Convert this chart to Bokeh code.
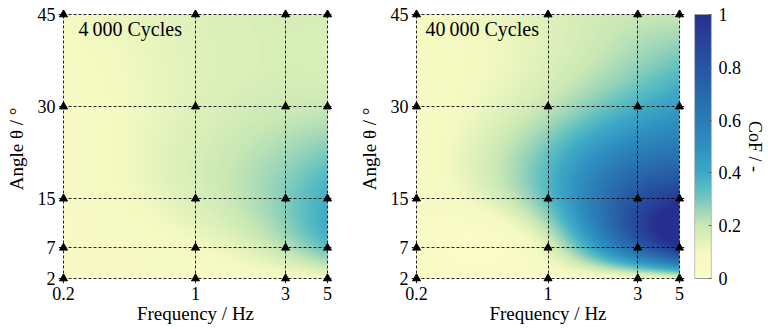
import numpy as np
from bokeh.plotting import figure
from bokeh.layouts import row
from bokeh.models import LinearColorMapper, FixedTicker, Range1d, Label, CustomJSTickFormatter
from bokeh.embed import file_html
from bokeh.resources import INLINE

# ---------------- data ----------------
freqs = [0.2, 1, 3, 5]          # Hz
angles = [2, 7, 15, 30, 45]     # degrees
# rows: angles (2..45), columns: freqs (0.2..5)
cof_4000 = [
    [0.06, 0.06, 0.08, 0.10],
    [0.05, 0.10, 0.22, 0.33],
    [0.05, 0.16, 0.29, 0.39],
    [0.06, 0.15, 0.19, 0.20],
    [0.10, 0.15, 0.17, 0.17],
]
cof_40000 = [
    [0.05, 0.05, 0.08, 0.12],
    [0.05, 0.15, 0.72, 0.98],
    [0.05, 0.34, 0.82, 0.95],
    [0.06, 0.21, 0.38, 0.45],
    [0.08, 0.15, 0.20, 0.20],
]
titles = ["4\u2009000 Cycles", "40\u2009000 Cycles"]
cbar_ticks = [0, 0.2, 0.4, 0.6, 0.8, 1]

# colormap anchors
cmap_pos = [0, 0.1, 0.2, 0.27, 0.33, 0.4, 0.5, 0.6, 0.7, 0.8, 0.9, 1.0]
cmap_col = ["#fcfcca", "#f4f9c1", "#c9e8b4", "#93d2ba", "#5ec0c0", "#3ea9c6",
            "#2f90c0", "#2a7cb6", "#2869ac", "#2656a2", "#27439a", "#262f8f"]


def hex2rgb(h):
    return [int(h[i:i + 2], 16) for i in (1, 3, 5)]


rgb = np.array([hex2rgb(c) for c in cmap_col], float)
tt = np.linspace(0, 1, 256)
palette = []
for t in tt:
    r = np.interp(t, cmap_pos, rgb[:, 0])
    g = np.interp(t, cmap_pos, rgb[:, 1])
    b = np.interp(t, cmap_pos, rgb[:, 2])
    palette.append("#%02x%02x%02x" % (int(round(r)), int(round(g)), int(round(b))))

mapper = LinearColorMapper(palette=palette, low=0, high=1)


def nat_spline(xk, yk, xq):
    xk = np.asarray(xk, float)
    yk = np.asarray(yk, float)
    n = len(xk)
    h = np.diff(xk)
    A = np.zeros((n, n))
    b = np.zeros(n)
    A[0, 0] = 1
    A[-1, -1] = 1
    for i in range(1, n - 1):
        A[i, i - 1] = h[i - 1]
        A[i, i] = 2 * (h[i - 1] + h[i])
        A[i, i + 1] = h[i]
        b[i] = 6 * ((yk[i + 1] - yk[i]) / h[i] - (yk[i] - yk[i - 1]) / h[i - 1])
    M = np.linalg.solve(A, b)
    idx = np.clip(np.searchsorted(xk, xq) - 1, 0, n - 2)
    x0 = xk[idx]
    x1 = xk[idx + 1]
    hh = x1 - x0
    t0 = x1 - xq
    t1 = xq - x0
    return ((M[idx] * t0 ** 3 + M[idx + 1] * t1 ** 3) / (6 * hh)
            + (yk[idx] / hh - M[idx] * hh / 6) * t0
            + (yk[idx + 1] / hh - M[idx + 1] * hh / 6) * t1)


NX, NY = 264, 264
lf_k = np.log10(freqs)
lf_q = np.linspace(lf_k[0], lf_k[-1], NX)
an_q = np.linspace(angles[0], angles[-1], NY)


def field(grid):
    g = np.asarray(grid, float)
    cols = np.array([nat_spline(angles, g[:, j], an_q) for j in range(g.shape[1])]).T
    img = np.array([nat_spline(lf_k, cols[i], lf_q) for i in range(NY)])
    return np.clip(img, 0, 1)


FONT = "Liberation Serif"
fx, fy = np.meshgrid(freqs, angles)
PAD = 5        # px of white margin between heat map and frame edge
IMG_H = 264
TOP = 14 - PAD
BOTTOM = 329 - 14 - IMG_H - PAD


def panel(grid, title, left, img_w, title_dx):
    kx = (np.log10(freqs[-1]) - np.log10(freqs[0])) / img_w
    ky = (angles[-1] - angles[0]) / IMG_H
    xr = Range1d(10 ** (np.log10(freqs[0]) - PAD * kx), 10 ** (np.log10(freqs[-1]) + PAD * kx))
    yr = Range1d(angles[0] - PAD * ky, angles[-1] + PAD * ky)
    p = figure(x_axis_type="log", x_range=xr, y_range=yr,
               frame_width=img_w + 2 * PAD, frame_height=IMG_H + 2 * PAD,
               min_border_left=left, min_border_right=3,
               min_border_top=TOP, min_border_bottom=BOTTOM,
               toolbar_location=None, output_backend="svg")
    p.image(image=[field(grid)], x=freqs[0], y=angles[0],
            dw=freqs[-1] - freqs[0], dh=angles[-1] - angles[0],
            color_mapper=mapper, level="image")
    for ax, ticks in ((p.xaxis[0], freqs), (p.yaxis[0], angles)):
        ax.ticker = FixedTicker(ticks=ticks)
        ax.major_label_text_font = FONT
        ax.major_label_text_font_size = "18px"
        ax.major_label_text_color = "black"
        ax.axis_label_text_font = FONT
        ax.axis_label_text_font_size = "19px"
        ax.axis_label_text_font_style = "normal"
        ax.axis_label_text_color = "black"
        ax.axis_line_color = None
        ax.major_tick_in = 0
        ax.major_tick_out = 0
        ax.minor_tick_line_color = None
        ax.formatter = CustomJSTickFormatter(code="return String(tick);")
    p.xaxis.axis_label = "Frequency / Hz"
    p.yaxis.axis_label = "Angle  \u03b8 / \u00b0"
    p.xaxis.major_label_standoff = 3
    p.yaxis.major_label_standoff = 3
    p.xaxis.axis_label_standoff = 0
    p.yaxis.axis_label_standoff = 8
    p.xgrid.ticker = FixedTicker(ticks=freqs)
    p.ygrid.ticker = FixedTicker(ticks=angles)
    for g in (p.xgrid, p.ygrid):
        g.grid_line_color = "black"
        g.grid_line_dash = "3 2"
        g.grid_line_width = 1
        g.grid_line_alpha = 0.85
    p.outline_line_color = None
    p.scatter(x=fx.ravel(), y=fy.ravel(), marker="triangle", size=8,
              color="black")
    p.add_layout(Label(x=freqs[0], y=angles[-1], x_offset=title_dx, y_offset=-3,
                       text=title, text_baseline="top", text_font=FONT,
                       text_font_size="20px", text_color="black"))
    return p


p1 = panel(cof_4000, titles[0], 58, 264, 15)
w1 = 58 + 264 + 2 * PAD + 3
p2 = panel(cof_40000, titles[1], 416 - PAD - w1, 263, 9)
w2 = (416 - PAD - w1) + 263 + 2 * PAD + 3

# colour bar as a small figure (frame aligned with the panels, bar padded)
ky_cb = (cbar_ticks[-1] - cbar_ticks[0]) / IMG_H
cb = figure(x_range=Range1d(0, 1),
            y_range=Range1d(cbar_ticks[0] - PAD * ky_cb, cbar_ticks[-1] + PAD * ky_cb),
            frame_width=17, frame_height=IMG_H + 2 * PAD,
            min_border_left=694 - w1 - w2, min_border_right=768 - 711,
            min_border_top=TOP, min_border_bottom=BOTTOM,
            x_axis_location=None, y_axis_location="right",
            toolbar_location=None, output_backend="svg")
cb.image(image=[np.linspace(0, 1, 256).reshape(256, 1)], x=0, y=cbar_ticks[0], dw=1,
         dh=cbar_ticks[-1] - cbar_ticks[0], color_mapper=mapper, level="image")
cb.quad(left=0, right=1, bottom=cbar_ticks[0], top=cbar_ticks[-1],
        fill_color=None, line_color="#999999", line_width=1.2)
cb.xgrid.grid_line_color = None
cb.ygrid.grid_line_color = None
cb.outline_line_color = None
ya = cb.yaxis[0]
ya.ticker = FixedTicker(ticks=cbar_ticks)
ya.formatter = CustomJSTickFormatter(code="return String(tick);")
ya.major_label_text_font = FONT
ya.major_label_text_font_size = "18px"
ya.major_label_text_color = "black"
ya.axis_label = "CoF / -"
ya.axis_label_text_font = FONT
ya.axis_label_text_font_size = "18px"
ya.axis_label_text_font_style = "normal"
ya.axis_label_text_color = "black"
ya.axis_line_color = None
ya.major_tick_in = 3
ya.major_tick_out = 0
ya.major_tick_line_color = "#666666"
ya.minor_tick_line_color = None
ya.major_label_standoff = 7
ya.axis_label_standoff = 1

layout = row(p1, p2, cb)
open("out.html", "w").write(file_html(layout, INLINE))
